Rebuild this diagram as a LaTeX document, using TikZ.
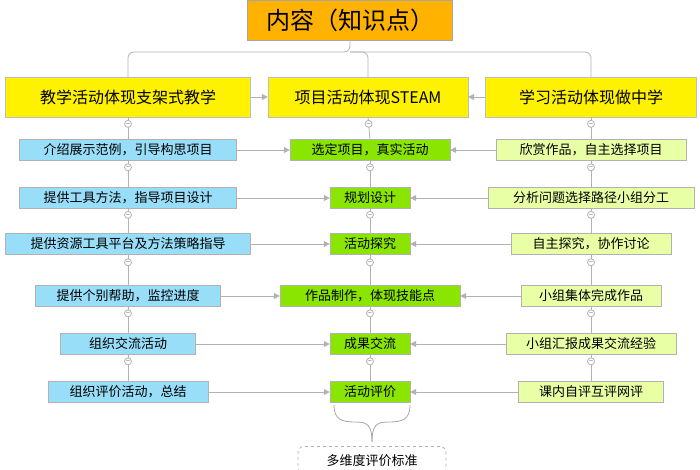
\documentclass[tikz,border=0pt]{standalone}
\usepackage{fontspec}
\setmainfont{Noto Sans CJK SC}
\usetikzlibrary{arrows.meta,positioning}

\begin{document}
\begin{tikzpicture}[x=1pt,y=-1pt,
					topic box/.style={draw=gray!70, fill=orange!60!yellow, minimum width=205pt, minimum height=40pt, font=\fontsize{24}{26}\selectfont},
					head box/.style={draw=gray!50, fill=yellow, minimum height=40pt, font=\fontsize{16}{18}\selectfont},
					sub box/.style={draw=gray!60, minimum height=21pt, font=\fontsize{13}{15}\selectfont},
					teach box/.style={sub box, fill=cyan!40!white},
					proj box/.style={sub box, fill=lime!80!green!90!black},
					learn box/.style={sub box, fill=lime!35!white},
					link/.style={draw=gray!60, thick},
					feed/.style={link, -{Triangle[length=6pt,width=6pt]}},
					knob/.style={circle, draw=gray!60, fill=white, inner sep=0pt, minimum size=7pt},
				]
					\useasboundingbox (0,0) rectangle (700,470);
					\node[topic box] (topic) at (350,20) {内容（知识点）};
					\node[head box, minimum width=245pt] (teach) at (128,97) {教学活动体现支架式教学};
					\node[head box, minimum width=200pt] (proj) at (368,97) {项目活动体现STEAM};
					\node[head box, minimum width=211pt] (learn) at (591,97) {学习活动体现做中学};
					
					\draw[link, rounded corners=6pt] (topic.south) -- (350,52) -| (teach.north);
					\draw[link, rounded corners=6pt] (350,52) -| (proj.north);
					\draw[link, rounded corners=6pt] (350,52) -| (learn.north);
					\draw[feed] (teach) -- (proj);
					\draw[feed] (learn) -- (proj);
					
					% rows: y, teach width, project width, learn width, texts
					\foreach \y/\tw/\pw/\lw/\ta/\pa/\la [count=\i] in {
						150/217/160/190/介绍展示范例，引导构思项目/选定项目，真实活动/欣赏作品，自主选择项目,
						198/217/80/206/提供工具方法，指导项目设计/规划设计/分析问题选择路径小组分工,
						244/245/80/160/提供资源工具平台及方法策略指导/活动探究/自主探究，协作讨论,
						296/185/180/140/提供个别帮助，监控进度/作品制作，体现技能点/小组集体完成作品,
						344/135/80/170/组织交流活动/成果交流/小组汇报成果交流经验,
						392/160/80/145/组织评价活动，总结/活动评价/课内自评互评网评} {
						\node[teach box, minimum width=\tw pt] (t\i) at (128,\y) {\ta};
						\node[proj box, minimum width=\pw pt] (p\i) at (370,\y) {\pa};
						\node[learn box, minimum width=\lw pt] (l\i) at (591,\y) {\la};
						\draw[feed] (t\i) -- (p\i);
						\draw[feed] (l\i) -- (p\i);
					}
					
					\foreach \col/\top in {t/teach, p/proj, l/learn} {
						\draw[link] (\top.south) -- (\col1.north) node[knob, pos=0.3] {\tiny$-$};
						\foreach \a/\b in {1/2, 2/3, 3/4, 4/5, 5/6}
							\draw[link] (\col\a.south) -- (\col\b.north) node[knob, pos=0.25] {\tiny$-$};
					}
					
					% brace under the last project box
					\coordinate (tip) at (372,442);
					\draw[draw=gray!70, thick] (334,405) .. controls (334,420) and (342,422) .. (356,422) .. controls (368,422) and (372,426) .. (tip);
					\draw[draw=gray!70, thick] (410,405) .. controls (410,420) and (402,422) .. (388,422) .. controls (376,422) and (372,426) .. (tip);
					\node[draw=gray!60, thick, dashed, rounded corners=6pt, minimum width=148pt, minimum height=28pt, font=\fontsize{13}{15}\selectfont, anchor=north] (norm) at (372,446) {多维度评价标准};
				\end{tikzpicture}
\end{document}
